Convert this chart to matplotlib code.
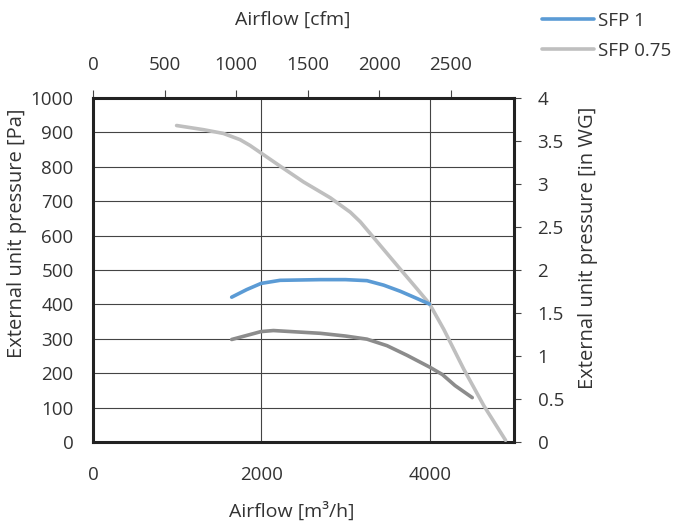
import matplotlib
matplotlib.use('Agg')
import matplotlib.pyplot as plt

plt.rcParams['font.family'] = ['Open Sans', 'DejaVu Sans']
text_color = '#333333'

# airflow [m3/h] and pressure [Pa]
sfp1_flow = [1647, 1825, 1996, 2222, 2698, 3000, 3254, 3452, 3651, 3849, 3996]
sfp1_pa = [421, 443, 461, 470, 472, 472, 469, 456, 438, 417, 401]

sfp075_flow = [993, 1310, 1548, 1746, 1865, 1996, 2222, 2500, 2818, 3056, 3175, 3413,
               3651, 3849, 3996, 4167, 4405, 4643, 4900]
sfp075_pa = [920, 908, 897, 879, 862, 840, 802, 756, 710, 668, 640, 571,
             502, 445, 402, 327, 211, 105, 5]

low_flow = [1647, 1996, 2143, 2698, 3000, 3254, 3492, 3730, 3996, 4150, 4300, 4504]
low_pa = [298, 321, 324, 316, 308, 299, 280, 252, 218, 196, 164, 129]

bottom_ticks = [0, 2000, 4000]
top_ticks = [0, 500, 1000, 1500, 2000, 2500]
left_ticks = list(range(0, 1001, 100))
right_ticks = [0, 0.5, 1, 1.5, 2, 2.5, 3, 3.5, 4]
right_labels = ['0', '0.5', '1', '1.5', '2', '2.5', '3', '3.5', '4']

M3H_PER_CFM = 1.699
PA_PER_INWG = 250.0

fig = plt.figure(figsize=(6.82, 5.25), dpi=100)
ax = fig.add_axes([93 / 682, 1 - 442 / 525, 421 / 682, 344 / 525])

l1, = ax.plot(sfp1_flow, sfp1_pa, color='#5B9BD5', lw=2.6, solid_capstyle='round',
              solid_joinstyle='round', zorder=4)
l2, = ax.plot(sfp075_flow, sfp075_pa, color='#BFBFBF', lw=2.6, solid_capstyle='round',
              solid_joinstyle='round', zorder=3)
ax.plot(low_flow, low_pa, color='#8C8C8C', lw=2.6, solid_capstyle='round',
        solid_joinstyle='round', zorder=3)

ax.set_xlim(0, 5000)
ax.set_ylim(0, 1000)
ax.set_xticks(bottom_ticks)
ax.set_yticks(left_ticks)
ax.grid(True, color='#444444', lw=0.8)
ax.set_axisbelow(True)
for s in ax.spines.values():
    s.set_linewidth(2.2)
    s.set_color('#222222')
ax.tick_params(axis='x', length=0, pad=17, labelsize=13.5, colors=text_color)
ax.tick_params(axis='y', length=0, pad=14, labelsize=13.5, colors=text_color)

top = ax.secondary_xaxis('top', functions=(lambda x: x / M3H_PER_CFM, lambda x: x * M3H_PER_CFM))
top.set_xticks(top_ticks)
top.tick_params(length=6, width=0.8, color='#444444', pad=11, labelsize=13.5, labelcolor=text_color)
top.spines['top'].set_visible(False)

right = ax.secondary_yaxis('right', functions=(lambda y: y / PA_PER_INWG, lambda y: y * PA_PER_INWG))
right.set_yticks(right_ticks)
right.set_yticklabels(right_labels)
right.tick_params(length=5, width=0.8, color='#444444', pad=12, labelsize=13.5, labelcolor=text_color)
right.spines['right'].set_visible(False)

ax.text(0.473, -0.2, 'Airflow [m³/h]', transform=ax.transAxes, ha='center', va='center',
        fontsize=14, color=text_color)
ax.text(0.475, 1.227, 'Airflow [cfm]', transform=ax.transAxes, ha='center', va='center',
        fontsize=14, color=text_color)
ax.text(-0.18, 0.608, 'External unit pressure [Pa]', transform=ax.transAxes, ha='center',
        va='center', rotation=90, fontsize=14.5, color=text_color)
ax.text(1.176, 0.564, 'External unit pressure [in WG]', transform=ax.transAxes, ha='center',
        va='center', rotation=90, fontsize=14.5, color=text_color)

fig.legend([l1, l2], ['SFP 1', 'SFP 0.75'], loc='upper left', bbox_to_anchor=(534 / 682, 1 - 4 / 525),
           frameon=False, fontsize=13.5, handlelength=2.8, handletextpad=0.2, labelspacing=0.65,
           labelcolor=text_color, borderaxespad=0)

fig.savefig('out.png', dpi=100)
